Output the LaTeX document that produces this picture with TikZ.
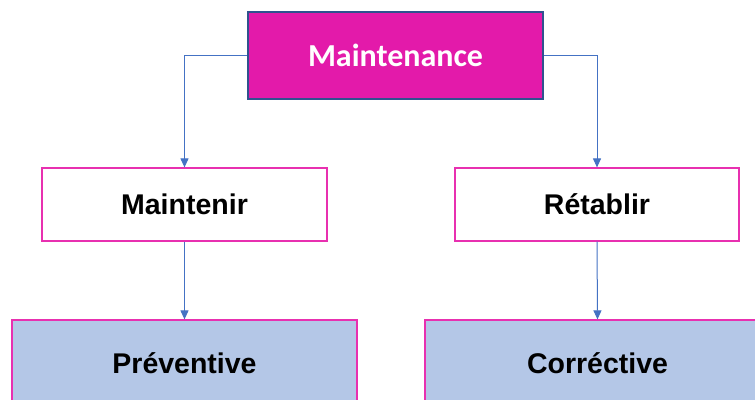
\documentclass[tikz,border=0pt]{standalone}
\usepackage{fontspec}
\setmainfont{Liberation Sans}
\newfontfamily\calfont{Carlito}
\usetikzlibrary{arrows.meta}
\definecolor{topfill}{HTML}{E31AAA}
\definecolor{topdraw}{HTML}{2F528F}
\definecolor{pinkline}{HTML}{E830B0}
\definecolor{bluefill}{HTML}{B4C7E7}
\definecolor{conn}{HTML}{4472C4}
\tikzset{
  topbox/.style={draw=topdraw, line width=1.2pt, fill=topfill, text=white,
    font=\calfont\bfseries\fontsize{32}{36}\selectfont, inner sep=0pt},
  midbox/.style={draw=pinkline, line width=1.2pt, fill=white, text=black,
    font=\bfseries\fontsize{28.5}{32}\selectfont, inner sep=0pt},
  lowbox/.style={draw=pinkline, line width=1.2pt, fill=bluefill, text=black,
    font=\bfseries\fontsize{28.5}{32}\selectfont, inner sep=0pt},
  conn/.style={draw=conn, line width=1pt, -{Triangle[width=8pt,length=9pt]}}
}
\begin{document}
\begin{tikzpicture}[x=1pt,y=-1pt]
\useasboundingbox[fill=white] (0,0) rectangle (755,399);
\node[topbox, minimum width=295pt, minimum height=87pt] (mt) at (395.5,55.5) {Maintenance};
\node[midbox, minimum width=285pt, minimum height=73pt] (mn) at (184.5,204.5) {Maintenir};
\node[midbox, minimum width=284pt, minimum height=73pt] (rt) at (597,204.5) {Rétablir};
\node[lowbox, minimum width=345pt, minimum height=86pt] (pv) at (184.5,363) {Préventive};
\node[lowbox, minimum width=345pt, minimum height=86pt] (cr) at (597.5,363) {Corréctive};
\draw[conn] (mt.west) -| (mn.north);
\draw[conn] (mt.east) -| (rt.north);
\draw[conn] (mn.south) -- (pv.north);
\draw[conn] (rt.south) -- (cr.north);
\end{tikzpicture}
\end{document}
